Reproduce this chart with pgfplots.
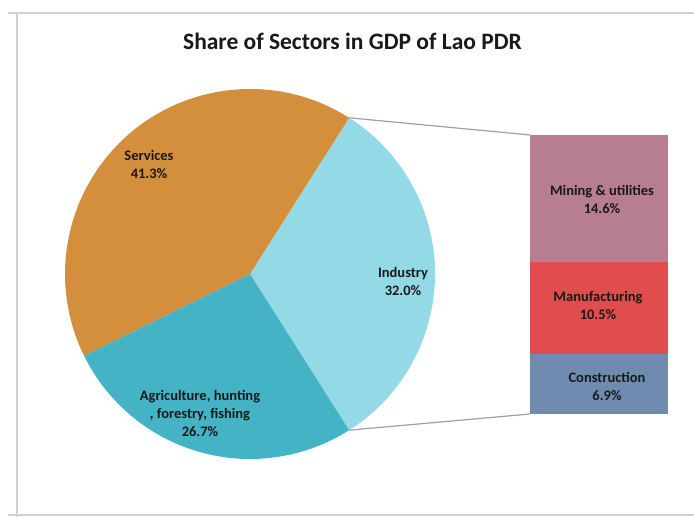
\documentclass[border=0pt]{standalone}
\usepackage{pgfplots}
\pgfplotsset{compat=1.18}
\usepackage{pgfplotstable}
\usepackage{fontspec}
\setmainfont{Carlito}

\definecolor{services}{HTML}{D48F3D}
\definecolor{industry}{HTML}{93DAE6}
\definecolor{agri}{HTML}{44B3C5}
\definecolor{mining}{HTML}{B77E92}
\definecolor{manuf}{HTML}{E14D4F}
\definecolor{constr}{HTML}{6F8BB0}
\definecolor{frame}{HTML}{D0D0D0}
\definecolor{conn}{HTML}{A0A0A0}

\pgfplotstableread{
sector value
Services 41.3
Agriculture 26.7
Industry 32.0
}\pietable

\pgfplotstableread{
x construction manufacturing mining
0 6.9 10.5 14.6
}\bartable

\pgfplotstablegetelem{0}{value}\of\pietable \let\vS\pgfplotsretval
\pgfplotstablegetelem{1}{value}\of\pietable \let\vA\pgfplotsretval
\pgfplotstablegetelem{2}{value}\of\pietable \let\vI\pgfplotsretval
\pgfmathsetmacro\aI{\vI*1.8}
\pgfmathsetmacro\aIn{-\vI*1.8}
\pgfmathsetmacro\aS{\aI+\vS*3.6}
\pgfmathsetmacro\aA{\aS+\vA*3.6}

\begin{document}
\begin{tikzpicture}
\path[use as bounding box] (0,0) rectangle (694pt,517pt);
\begin{axis}[at={(0pt,0pt)}, anchor=south west, scale only axis,
  width=694pt, height=517pt, xmin=0, xmax=694, ymin=0, ymax=517,
  hide axis, clip=false]
  % frame
  \draw[frame, line width=2pt] (axis cs:8,504) -- (axis cs:700,504);
  \draw[frame, line width=2.5pt] (axis cs:17,504) -- (axis cs:17,0);
  \draw[frame, line width=2pt] (axis cs:8,2) -- (axis cs:700,2);
  % pie
  \fill[industry] (axis cs:250,243) -- ++(\aIn:185pt) arc[start angle=\aIn, end angle=\aI, radius=185pt] -- cycle;
  \fill[services] (axis cs:250,243) -- ++(\aI:185pt) arc[start angle=\aI, end angle=\aS, radius=185pt] -- cycle;
  \fill[agri] (axis cs:250,243) -- ++(\aS:185pt) arc[start angle=\aS, end angle=\aA, radius=185pt] -- cycle;
  % connectors
  \draw[conn, line width=1.2pt] (axis cs:250,243) ++(\aI:185pt) -- (axis cs:530,382);
  \draw[conn, line width=1.2pt] (axis cs:250,243) ++(\aIn:185pt) -- (axis cs:530,103);
  % title
  \node[font=\fontsize{23.5}{28}\selectfont\bfseries, text=black!90] at (axis cs:352.5,476) {Share of Sectors in GDP of Lao PDR};
  % pie labels
  \node[font=\fontsize{14.5}{18}\selectfont\bfseries, text=black!90, align=center] at (axis cs:149,353) {Services\\41.3\%};
  \node[font=\fontsize{14.5}{18}\selectfont\bfseries, text=black!90, align=center] at (axis cs:403,236) {Industry\\32.0\%};
  \node[font=\fontsize{14.5}{18}\selectfont\bfseries, text=black!90, align=center] at (axis cs:200,104) {Agriculture, hunting\\, forestry, fishing\\26.7\%};
\end{axis}
\begin{axis}[at={(530pt,103pt)}, anchor=south west, scale only axis,
  width=138pt, height=279pt, xmin=-0.5, xmax=0.5, ymin=0, ymax=32,
  hide axis, clip=false, ybar stacked, bar width=138pt]
  \addplot[fill=constr, draw=none] table[x=x, y=construction] {\bartable};
  \addplot[fill=manuf, draw=none] table[x=x, y=manufacturing] {\bartable};
  \addplot[fill=mining, draw=none] table[x=x, y=mining] {\bartable};
\end{axis}
\begin{axis}[at={(0pt,0pt)}, anchor=south west, scale only axis,
  width=694pt, height=517pt, xmin=0, xmax=694, ymin=0, ymax=517,
  hide axis, clip=false]
  \node[font=\fontsize{14.5}{18}\selectfont\bfseries, text=black!90, align=center] at (axis cs:602,318) {Mining \& utilities\\14.6\%};
  \node[font=\fontsize{14.5}{18}\selectfont\bfseries, text=black!90, align=center] at (axis cs:598,211.5) {Manufacturing\\10.5\%};
  \node[font=\fontsize{14.5}{18}\selectfont\bfseries, text=black!90, align=center] at (axis cs:607,131) {Construction\\6.9\%};
\end{axis}
\end{tikzpicture}
\end{document}
